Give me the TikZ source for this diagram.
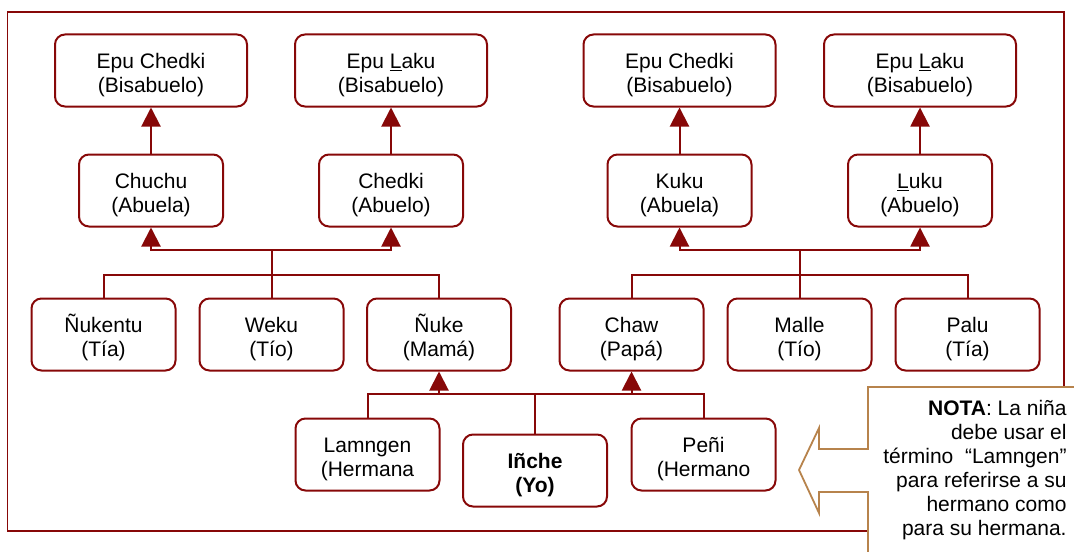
\documentclass[tikz,border=0pt]{standalone}
\usepackage{fontspec}
\setmainfont{Liberation Sans}
\usepackage{tikz}
\usetikzlibrary{arrows.meta}
\definecolor{rojo}{RGB}{135,8,8}
\definecolor{cafe}{RGB}{183,131,76}
\newcommand{\alto}{\rule{0pt}{12pt}}
\begin{document}
\begin{tikzpicture}[x=0.5pt,y=-0.5pt,
  caja/.style={draw=rojo,line width=1pt,rounded corners=5pt,align=center,
    minimum height=36pt,inner sep=0pt,font=\fontsize{10.5}{12.25}\selectfont},
  ancha/.style={caja,minimum width=96pt},
  angosta/.style={caja,minimum width=72pt},
  linea/.style={draw=rojo,line width=1pt},
  flecha/.style={linea,-{Triangle[width=9.5pt,length=9.5pt]}}]
\useasboundingbox (0,0) rectangle (1074,551);
\clip (0,0) rectangle (1074,551);
% marco
\draw[rojo,line width=0.8pt] (7.5,12) rectangle (1064,531);
% bisabuelos
\node[ancha] (A1) at (151,70.5) {\alto Epu Chedki\\(Bisabuelo)};
\node[ancha] (A2) at (391,70.5) {\alto Epu \underline{L}aku\\(Bisabuelo)};
\node[ancha] (A3) at (679.5,70.5) {\alto Epu Chedki\\(Bisabuelo)};
\node[ancha] (A4) at (920,70.5) {\alto Epu \underline{L}aku\\(Bisabuelo)};
% abuelos
\node[angosta] (G1) at (151,190.5) {\alto Chuchu\\(Abuela)};
\node[angosta] (G2) at (391,190.5) {\alto Chedki\\(Abuelo)};
\node[angosta] (G3) at (679.5,190.5) {\alto Kuku\\(Abuela)};
\node[angosta] (G4) at (920,190.5) {\alto \underline{L}uku\\(Abuelo)};
% padres y tios
\node[angosta] (P1) at (103.5,334.5) {\alto Ñukentu\\(Tía)};
\node[angosta] (P2) at (271.5,334.5) {\alto Weku\\(Tío)};
\node[angosta] (P3) at (439,334.5) {\alto Ñuke\\(Mamá)};
\node[angosta] (P4) at (631.5,334.5) {\alto Chaw\\(Papá)};
\node[angosta] (P5) at (799.5,334.5) {\alto Malle\\(Tío)};
\node[angosta] (P6) at (967.5,334.5) {\alto Palu\\(Tía)};
% hermanos
\node[angosta] (H1) at (367.5,454.5) {\alto Lamngen\\(Hermana};
\node[angosta,font=\fontsize{10.5}{12.25}\selectfont\bfseries] (H2) at (535,470.5) {\alto Iñche\\(Yo)};
\node[angosta] (H3) at (703.5,454.5) {\alto Peñi\\(Hermano};
\coordinate (J1) at (271.5,250);
\coordinate (K1) at (271.5,275);
\coordinate (J2) at (799.5,250);
\coordinate (K2) at (799.5,275);
\coordinate (K3) at (535,394);
\draw[flecha] (G1) -- (A1);
\draw[flecha] (G2) -- (A2);
\draw[flecha] (G3) -- (A3);
\draw[flecha] (G4) -- (A4);
\draw[flecha] (J1) -| (G1.south);
\draw[flecha] (J1) -| (G2.south);
\draw[flecha] (J2) -| (G3.south);
\draw[flecha] (J2) -| (G4.south);
\draw[linea] (J1) -- (K1) (K1) -| (P1.north) (K1) -- (P2.north) (K1) -| (P3.north);
\draw[linea] (J2) -- (K2) (K2) -| (P4.north) (K2) -- (P5.north) (K2) -| (P6.north);
\draw[linea] (H2.north) -- (K3) (K3) -| (H1.north) (K3) -| (H3.north);
\draw[flecha] (P3 |- K3) -- (P3.south);
\draw[flecha] (P4 |- K3) -- (P4.south);
% nota
\filldraw[draw=cafe,fill=white,line width=0.9pt] (1090,387) -- (868,387) -- (868,449)
  -- (819,449) -- (819,428) -- (799,470) -- (819,513) -- (819,492) -- (868,492)
  -- (868,570) -- (1090,570) -- cycle;
\node[anchor=north east,align=right,inner sep=0pt,font=\fontsize{10.5}{12}\selectfont] (N) at (1067,400)
  {\textbf{NOTA}: La niña\\debe usar el\\término\ \ “Lamngen”\\para referirse a su\\hermano como\\para su hermana.};
\end{tikzpicture}
\end{document}
